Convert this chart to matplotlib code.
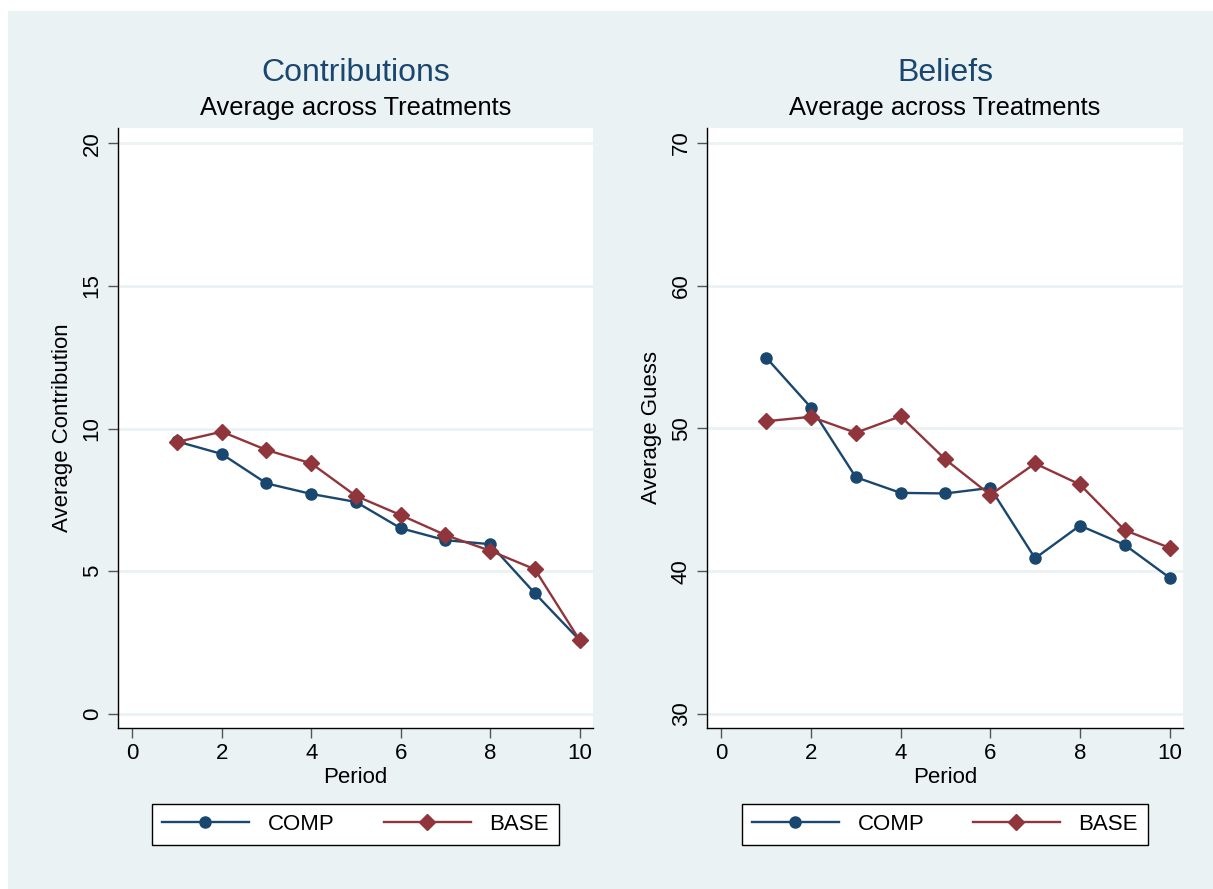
import matplotlib
matplotlib.use("Agg")
import matplotlib.pyplot as plt
from matplotlib.patches import Rectangle
from matplotlib.lines import Line2D

plt.rcParams['font.family'] = ['Liberation Sans', 'DejaVu Sans']

# data
period = [1, 2, 3, 4, 5, 6, 7, 8, 9, 10]
contrib_comp = [9.55, 9.11, 8.08, 7.71, 7.43, 6.51, 6.09, 5.95, 4.23, 2.59]
contrib_base = [9.53, 9.89, 9.25, 8.78, 7.64, 6.97, 6.27, 5.72, 5.07, 2.59]
beliefs_comp = [54.97, 51.47, 46.59, 45.49, 45.45, 45.84, 40.91, 43.2, 41.85, 39.55]
beliefs_base = [50.51, 50.82, 49.7, 50.86, 47.83, 45.35, 47.55, 46.08, 42.88, 41.64]

xticks = [0, 2, 4, 6, 8, 10]
yticks_left = [0, 5, 10, 15, 20]
yticks_right = [30, 40, 50, 60, 70]

NAVY = '#1A476F'
MAROON = '#90353B'
BG = '#EAF2F3'

W, H = 1213, 889
fig = plt.figure(figsize=(W / 100, H / 100), dpi=100)
fig.patch.set_facecolor('white')

# stata style background, white strip at top and left
fig.patches.append(Rectangle((8 / W, 0), 1 - 8 / W, 1 - 11 / H, transform=fig.transFigure,
                             facecolor=BG, edgecolor='none', zorder=-10))


def px_box(x0, y0, x1, y1):
    return [x0 / W, 1 - y1 / H, (x1 - x0) / W, (y1 - y0) / H]


def panel(box, comp, base, yticks, ylim, ylabel):
    ax = fig.add_axes(box)
    ax.set_facecolor('white')
    ax.plot(period, comp, color=NAVY, lw=1.7, marker='o', ms=8, mec=NAVY, mfc=NAVY, zorder=3)
    ax.plot(period, base, color=MAROON, lw=1.7, marker='D', ms=8.5, mec=MAROON, mfc=MAROON, zorder=4)
    ax.set_xlim(-0.32, 10.3)
    ax.set_ylim(*ylim)
    ax.set_xticks(xticks)
    ax.set_yticks(yticks)
    ax.set_yticklabels([str(t) for t in yticks], rotation=90, va='center')
    ax.tick_params(axis='both', direction='out', length=7, width=1, color='#555555',
                   labelsize=16, pad=4)
    ax.grid(axis='y', color=BG, lw=2)
    ax.set_axisbelow(True)
    for s in ['top', 'right']:
        ax.spines[s].set_visible(False)
    for s in ['left', 'bottom']:
        ax.spines[s].set_color('black')
        ax.spines[s].set_linewidth(1)
    ax.set_xlabel('Period', fontsize=16, labelpad=2)
    ax.set_ylabel(ylabel, fontsize=16, labelpad=6)
    return ax


ax1 = panel(px_box(118, 128, 593, 728), contrib_comp, contrib_base, yticks_left,
            (-0.49, 20.53), 'Average Contribution')
ax2 = panel(px_box(707, 128, 1183, 728), beliefs_comp, beliefs_base, yticks_right,
            (29.02, 71.05), 'Average Guess')

# titles
for cx, t in [(355.5, 'Contributions'), (945, 'Beliefs')]:
    fig.text(cx / W, 1 - 73 / H, t, ha='center', va='center', fontsize=23, color=NAVY)
    fig.text(cx / W, 1 - 108 / H, 'Average across Treatments', ha='center', va='center',
             fontsize=18.4, color='black')

# legends
handles = [Line2D([], [], color=NAVY, lw=1.7, marker='o', ms=8, mec=NAVY, mfc=NAVY),
           Line2D([], [], color=MAROON, lw=1.7, marker='D', ms=8.5, mec=MAROON, mfc=MAROON)]
labels = ['COMP', 'BASE']
for x0, x1 in [(152, 559), (742, 1148)]:
    b = px_box(x0, 803, x1, 846)
    leg = fig.legend(handles, labels, loc='center', bbox_to_anchor=b, mode='expand', ncol=2,
                     fontsize=16, handlelength=3.9, handletextpad=0.85, borderpad=0.45,
                     columnspacing=2.2, frameon=True, fancybox=False, borderaxespad=0,
                     framealpha=1)
    leg.get_frame().set_edgecolor('black')
    leg.get_frame().set_linewidth(1)
    leg.get_frame().set_facecolor('white')

fig.savefig('out.png', dpi=100, facecolor=fig.get_facecolor())
